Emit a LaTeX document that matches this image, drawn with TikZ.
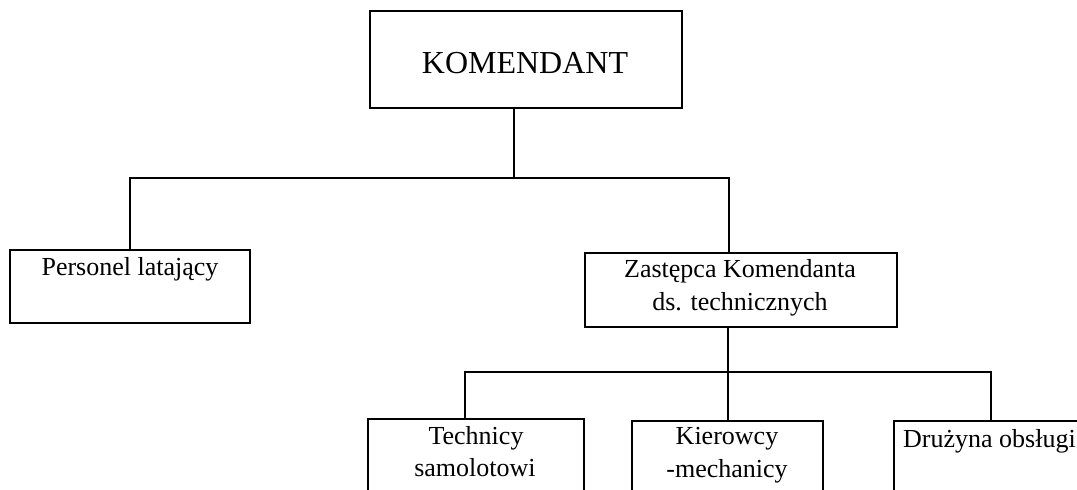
\documentclass[tikz,border=0pt]{standalone}
\usepackage{fontspec}
\setmainfont{Liberation Serif}
\begin{document}
\begin{tikzpicture}[x=1pt,y=-1pt,
  box/.style={draw, line width=1.3pt, inner sep=0pt},
  conn/.style={line width=1.3pt},
  lbl/.style={inner sep=0pt, font=\fontsize{26}{32}\selectfont},
  biglbl/.style={inner sep=0pt, font=\fontsize{32}{38}\selectfont}]
\useasboundingbox[fill=white] (0,0) rectangle (1077,490);
\clip (0,0) rectangle (1077,490);
% boxes
\node[box, minimum width=312pt, minimum height=97pt] (kom) at (526,59.5) {};
\node[box, minimum width=240pt, minimum height=73pt] (pers) at (130,286.5) {};
\node[box, minimum width=312pt, minimum height=74pt] (zast) at (741,290) {};
\node[box, minimum width=216pt, minimum height=91pt] (tech) at (476,464.5) {};
\node[box, minimum width=191pt, minimum height=89pt] (kier) at (727.5,465.5) {};
\node[box, minimum width=196pt, minimum height=89pt] (druz) at (992,465.5) {};
% texts
\node[biglbl, anchor=base] (komt) at (525,73) {KOMENDANT};
\node[lbl, anchor=base] (perst) at (130,275) {Personel latający};
\node[lbl, anchor=base] (zastt1) at (740,277) {Zastępca Komendanta};
\node[lbl, anchor=base] (zastt2) at (740,310) {ds. technicznych};
\node[lbl, anchor=base] (techt1) at (476,444) {Technicy};
\node[lbl, anchor=base] (techt2) at (475,476) {samolotowi};
\node[lbl, anchor=base] (kiert1) at (727,444) {Kierowcy};
\node[lbl, anchor=base] (kiert2) at (727,477) {-mechanicy};
\node[lbl, anchor=base west] (druzt) at (903,447) {Drużyna obsługi};
% connector coordinates
\coordinate (j1) at (514,178);
\coordinate (b1) at (130,178);
\coordinate (b2) at (729,178);
\coordinate (j2) at (728,372);
\coordinate (c1) at (465,372);
\coordinate (c3) at (991,372);
% connectors
\draw[conn] (kom.south -| j1) -- (j1);
\draw[conn] (pers.north -| b1) -- (b1) -- (b2) -- (zast.north -| b2);
\draw[conn] (zast.south -| j2) -- (j2);
\draw[conn] (tech.north -| c1) -- (c1) -- (c3) -- (druz.north -| c3);
\draw[conn] (j2) -- (kier.north -| j2);
\end{tikzpicture}
\end{document}
